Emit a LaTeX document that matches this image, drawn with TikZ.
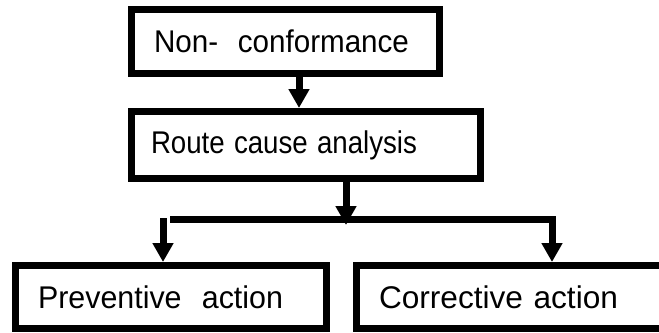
\documentclass[tikz,border=0pt]{standalone}
\usepackage{fontspec}
\usepackage{graphicx}
\setmainfont{Liberation Sans}
\usetikzlibrary{arrows.meta}
\newcommand{\fitw}[2]{\resizebox{#1}{\height}{#2}}
\begin{document}
\begin{tikzpicture}[x=1bp,y=1bp,
  box/.style={draw, line width=7bp, align=left, inner ysep=0pt,
    font=\fontsize{31.5}{36}\selectfont, anchor=center},
  flow/.style={line width=7bp, line join=miter, -{Triangle[width=20bp,length=19bp]}}]
\clip (0,0) rectangle (659,332);
\node[box, minimum width=308bp, minimum height=64bp, inner xsep=22.5bp, text width=263bp] (b1) at (285.5,290.5) {\fitw{255bp}{Non-\ \ conformance}};
\node[box, minimum width=349bp, minimum height=67bp, inner xsep=19.5bp, text width=310bp] (b2) at (306,187) {\fitw{266bp}{Route cause analysis}};
\node[box, minimum width=311bp, minimum height=63bp, inner xsep=22.5bp, text width=266bp] (b3) at (171,35) {\fitw{245bp}{Preventive\ \ action}};
\node[box, minimum width=310bp, minimum height=63bp, inner xsep=22.5bp, text width=265bp] (b4) at (511.5,35) {\fitw{239bp}{Corrective action}};
\coordinate (x1) at (299,0);
\coordinate (j) at (346,107);
\coordinate (bl) at (170,112.5);
\coordinate (br) at (552,112.5);
\coordinate (lt) at (163,114);
\draw[flow] (b1.south -| x1) -- (b2.north -| x1);
\draw[flow] (b2.south -| j) -- (j);
\draw[flow] (bl) -- (br) -- (b4.north -| br);
\draw[flow] (lt) -- (b3.north -| lt);
\end{tikzpicture}
\end{document}
